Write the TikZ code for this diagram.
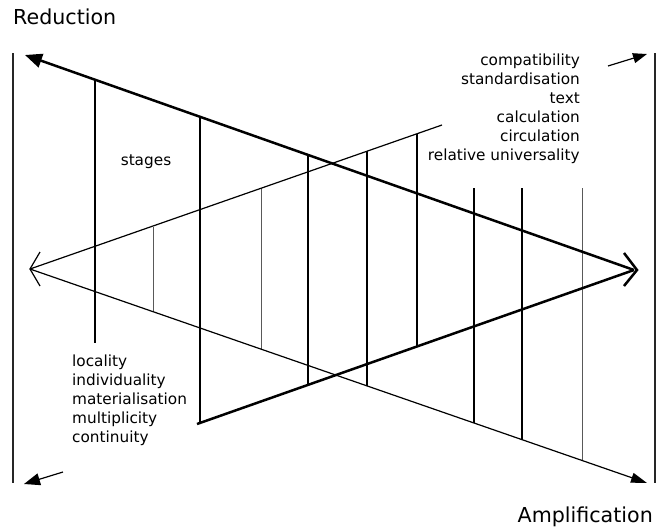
\documentclass[tikz,border=0pt]{standalone}
\usepackage{fontspec}
\setmainfont{DejaVu Sans}
\usetikzlibrary{arrows.meta}

\tikzset{
  heavy/.style={line width=2.5pt},
  light/.style={line width=1.2pt},
  frame/.style={line width=1.3pt, black!85},
  stagebar/.style={line width=2pt},
  midbar/.style={line width=1.4pt},
  faintbar/.style={line width=1pt, black!65},
  biglabel/.style={font=\fontsize{20.6}{24}\selectfont, inner sep=0pt},
  smalllabel/.style={font=\fontsize{15.3}{19}\selectfont, inner sep=0pt}
}

\begin{document}
\begin{tikzpicture}[x=1pt,y=-1pt]
			\useasboundingbox (0,0) rectangle (657,528);
			
			\node[biglabel, anchor=base west] (reduction) at (13,24) {Reduction};
			\node[biglabel, anchor=base east] (amplification) at (653,522) {Amplification};
			
			% frame
			\draw[frame] (13,53) -- (13,483);
			\draw[frame] (655,53) -- (655,483);
			
			\coordinate (redtip) at (25,55);
			\coordinate (apex) at (634,270);
			\coordinate (origin) at (30,269);
			\coordinate (amptip) at (647,483);
			\coordinate (upend) at (442,125);
			\coordinate (lowstart) at (197,424);
			
			% stages
			\draw[midbar] (95,80) -- (95,343);
			\draw[faintbar] (153,227) -- (153,312);
			\draw[midbar] (200,117) -- (200,424);
			\draw[faintbar] (261,188) -- (261,349);
			\draw[stagebar] (308,155) -- (308,385);
			\draw[midbar] (367,151) -- (367,386);
			\draw[stagebar] (417,134) -- (417,347);
			\draw[midbar] (474,188) -- (474,423);
			\draw[stagebar] (522,188) -- (522,440);
			\draw[faintbar] (582,188) -- (582,461);
			
			% reduction
			\draw[heavy,-{Triangle[length=17pt,width=14pt]}] (apex) -- (redtip);
			\draw[heavy] (lowstart) -- (apex);
			\draw[heavy] (624,253) -- (637,270) -- (624,286);
			
			% amplification
			\draw[light] (origin) -- (upend);
			\draw[light,-{Triangle[length=16pt,width=10pt]}] (origin) -- (amptip);
			\draw[light] (40,252) -- (30,269) -- (40,286);
			
			\draw[light,-{Triangle[length=14pt,width=10pt]}] (608,66) -- (647,54);
			\draw[light,-{Triangle[length=16pt,width=12pt]}] (63,472) -- (24,484);
			
			\node[smalllabel, anchor=base] (stages) at (146,165) {stages};
			\node[smalllabel, align=right, anchor=north east] (upper) at (580,53.5)
				{compatibility\\standardisation\\text\\calculation\\circulation\\relative universality};
			\node[smalllabel, align=left, anchor=north west] (lower) at (72,354.5)
				{locality\\individuality\\materialisation\\multiplicity\\continuity};
			
		\end{tikzpicture}
\end{document}
